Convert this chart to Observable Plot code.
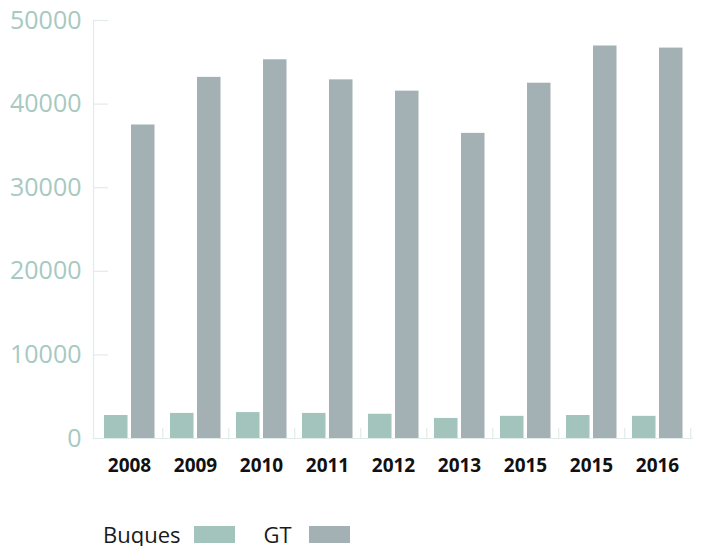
<!DOCTYPE html>
<html>
<head>
<meta charset="utf-8">
<script src="https://cdn.jsdelivr.net/npm/d3@7"></script>
<script src="https://cdn.jsdelivr.net/npm/@observablehq/plot@0.6"></script>
<style>
  body { margin: 0; background: #fff; font-family: "Open Sans", sans-serif; }
  #legend { display: flex; align-items: center; margin-top: 32px; padding-left: 103px; height: 24px; line-height: 24px; font-size: 22px; color: #1a1a1a; }
  #legend .sw { width: 41px; height: 17px; display: inline-block; }
</style>
</head>
<body>
<div id="chart"></div>
<div id="legend"></div>
<script>
const years = ["2008", "2009", "2010", "2011", "2012", "2013", "2015", "2015", "2016"];
const buques = [2750, 3000, 3100, 3000, 2900, 2400, 2650, 2750, 2650];
const gt = [37500, 43200, 45300, 42900, 41550, 36500, 42500, 46950, 46700];
const yTicks = [0, 10000, 20000, 30000, 40000, 50000];
const seriesNames = ["Buques", "GT"];
const colors = ["#a2c4bc", "#a3b0b4"];

const idx = years.map((_, i) => i);
const rows = idx.map(i => ({i, year: years[i], buques: buques[i], gt: gt[i]}));
const axisColor = "#e1ebe8";

const chart = Plot.plot({
  width: 703,
  height: 490,
  marginTop: 20,
  marginBottom: 52,
  marginLeft: 93,
  marginRight: 11,
  style: {fontFamily: "'Open Sans', sans-serif", background: "#fff"},
  x: {type: "band", domain: idx, padding: 0, axis: null, label: null},
  y: {domain: [0, 50000], axis: null, label: null},
  marks: [
    Plot.frame({anchor: "left", stroke: axisColor, strokeWidth: 1.2}),
    Plot.frame({anchor: "bottom", stroke: axisColor, strokeWidth: 1.2}),
    Plot.ruleY(yTicks, {y: d => d, stroke: axisColor, strokeWidth: 1.2, insetRight: 584}),
    Plot.ruleX(idx, {x: d => d, dx: 33.25, stroke: axisColor, strokeWidth: 1.2, insetTop: 408}),
    Plot.barY(rows, {x: "i", y: "buques", fill: colors[0], insetLeft: 8, insetRight: 34.5}),
    Plot.barY(rows, {x: "i", y: "gt", fill: colors[1], insetLeft: 35, insetRight: 7.5}),
    Plot.axisY({ticks: yTicks, label: null, tickSize: 0, tickPadding: 12, fontSize: 25, fill: "#a6c9c1", tickFormat: d => String(d)}),
    Plot.axisX({label: null, tickSize: 0, tickPadding: 20, fontSize: 19, fontWeight: "bold", fill: "#111", tickFormat: i => years[i]})
  ]
});
document.getElementById("chart").append(chart);

const legend = document.getElementById("legend");
seriesNames.forEach((name, k) => {
  const t = document.createElement("span");
  t.textContent = name;
  t.style.marginRight = k === 0 ? "13px" : "17px";
  const s = document.createElement("span");
  s.className = "sw";
  s.style.background = colors[k];
  if (k === 0) s.style.marginRight = "29px";
  legend.append(t, s);
});
</script>
</body>
</html>
